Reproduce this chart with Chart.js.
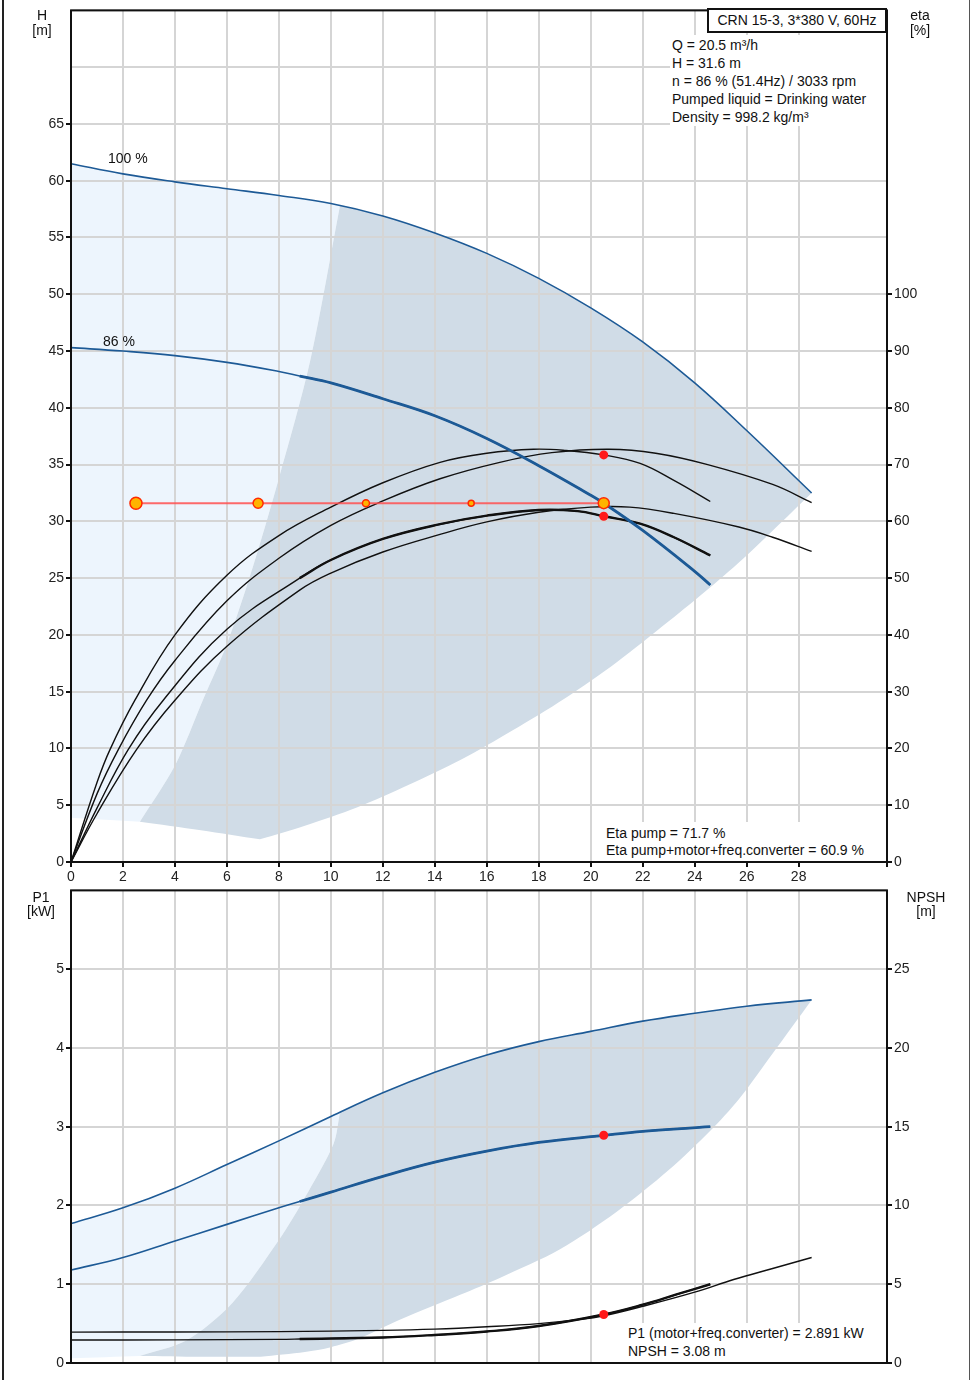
<!DOCTYPE html>
<html>
<head>
<meta charset="utf-8">
<script src="https://cdn.jsdelivr.net/npm/chart.js@4.4.1/dist/chart.umd.min.js"></script>
<style>
  html, body { margin: 0; padding: 0; background: #fff; overflow: hidden; }
  body { width: 975px; height: 1380px; position: relative; font-family: "Liberation Sans", Arial, sans-serif; color: #111; }
  .box { position: absolute; }
  .lbl { position: absolute; font-size: 14px; line-height: 16px; white-space: nowrap; }
  .c { text-align: center; }
  .bg { position: absolute; background: #fff; }
</style>
</head>
<body>
<div style="position:absolute;left:2px;top:0;width:2px;height:1380px;background:#222"></div>
<div style="position:absolute;left:969px;top:0;width:1px;height:1380px;background:#555"></div>

<div class="box" style="left:0;top:0;width:975px;height:890px"><canvas id="topChart"></canvas></div>
<div class="box" style="left:0;top:880px;width:975px;height:500px"><canvas id="bottomChart"></canvas></div>

<!-- axis units -->
<div class="lbl c" style="left:27px;top:7px;width:30px">H</div>
<div class="lbl c" style="left:27px;top:22px;width:30px">[m]</div>
<div class="lbl c" style="left:900px;top:7px;width:40px">eta</div>
<div class="lbl c" style="left:900px;top:22px;width:40px">[%]</div>
<div class="lbl c" style="left:21px;top:889px;width:40px">P1</div>
<div class="lbl c" style="left:21px;top:903px;width:40px">[kW]</div>
<div class="lbl c" style="left:901px;top:889px;width:50px">NPSH</div>
<div class="lbl c" style="left:901px;top:903px;width:50px">[m]</div>

<!-- curve labels -->
<div class="lbl" style="left:108px;top:150px">100 %</div>
<div class="lbl" style="left:103px;top:333px">86 %</div>

<!-- info box -->
<div style="position:absolute;left:707px;top:8px;width:176px;height:21px;border:2px solid #111;background:#fff;font-size:14px;line-height:21px;text-align:center;white-space:nowrap">CRN 15-3, 3*380 V, 60Hz</div>
<div class="bg" style="left:670px;top:35px;width:216px;height:91px"></div>
<div class="lbl" style="left:672px;top:37px">Q = 20.5 m³/h</div>
<div class="lbl" style="left:672px;top:55px">H = 31.6 m</div>
<div class="lbl" style="left:672px;top:73px">n = 86 % (51.4Hz) / 3033 rpm</div>
<div class="lbl" style="left:672px;top:91px">Pumped liquid = Drinking water</div>
<div class="lbl" style="left:672px;top:109px">Density = 998.2 kg/m³</div>

<div class="bg" style="left:600px;top:822px;width:286px;height:39px"></div>
<div class="lbl" style="left:606px;top:825px">Eta pump = 71.7 %</div>
<div class="lbl" style="left:606px;top:842px">Eta pump+motor+freq.converter = 60.9 %</div>

<div class="bg" style="left:624px;top:1323px;width:262px;height:39px"></div>
<div class="lbl" style="left:628px;top:1325px">P1 (motor+freq.converter) = 2.891 kW</div>
<div class="lbl" style="left:628px;top:1343px">NPSH = 3.08 m</div>

<script>
// ---- head curves (Q in m3/h, H in m)
const H100_Q = [0, 2, 4, 6, 8, 10, 12, 14, 16, 18, 20, 22, 24, 26, 28.5];
const H100   = [61.5, 60.6, 59.9, 59.3, 58.7, 58.0, 56.9, 55.4, 53.6, 51.4, 48.8, 45.8, 42.2, 38.0, 32.5];
const H86_Q  = [0, 2, 4, 6, 8, 8.8, 10, 12, 14, 16, 18, 20, 20.5, 22, 24, 24.6];
const H86    = [45.3, 45.0, 44.6, 44.0, 43.2, 42.8, 42.2, 40.8, 39.3, 37.3, 34.9, 32.3, 31.6, 29.2, 25.6, 24.4];

// ---- efficiency curves (%)
const effPump100_Q = [0, 1, 1.82, 2.91, 4, 6, 8, 10, 12, 14.2, 16.5, 18.5, 20.7, 22.5, 24.5, 27, 28.5];
const effPump100   = [0, 12, 19.8, 28.5, 35.5, 46, 53.5, 59.3, 63.6, 67.5, 70.4, 72.1, 72.7, 72.0, 70.0, 66.5, 63.3];
const effPump86_Q  = [0, 1, 1.5, 2.46, 4, 6, 8, 10, 12, 14.2, 16, 17.8, 19, 20.5, 21.9, 23.2, 24.6];
const effPump86    = [0, 14, 19.8, 28.5, 40, 50.5, 57.5, 62.5, 66.8, 70.4, 72.0, 72.7, 72.5, 71.7, 70.2, 67.2, 63.5];
const effTot100_Q  = [0, 1, 2.52, 4, 6, 8.8, 10, 12, 14.2, 16, 18, 20, 21.5, 23.2, 25.7, 27, 28.5];
const effTot100    = [0, 8.5, 19.8, 28.5, 38, 47.9, 50.9, 54.6, 57.7, 59.9, 61.6, 62.5, 62.5, 61.4, 59, 57.2, 54.7];
const effTot86_Q   = [0, 1, 2.2, 3.55, 6, 8.8, 10, 12, 14.2, 16, 18, 19.5, 20.5, 21.9, 23.2, 24.6];
const effTot86     = [0, 9.5, 19.8, 28.5, 41, 50, 53.2, 56.9, 59.5, 61.0, 62.0, 61.8, 60.9, 59.6, 57.2, 54.0];

// ---- shaded operating ranges (H chart)
const lightH_Q = [0, 2, 4, 6, 8, 10, 10.35, 10.35, 9.2, 8, 7, 6, 5.08, 4, 2.65, 2.65, 0, 0, 0];
const lightH   = [61.5, 60.6, 59.9, 59.3, 58.7, 58.0, 57.8, 57.8, 44.1, 33.8, 26, 19.2, 14.3, 8.5, 3.55, 3.55, 3.9, 3.9, 61.5];
const darkH_Q  = [10.35, 12, 14, 16, 18, 20, 22, 24, 26, 28.5, 28.5, 26, 24.6, 23, 21, 19, 17, 15, 13, 11, 9, 7.27, 7.27, 5, 2.65, 2.65, 4, 5.08, 6, 7, 8, 9.2, 10.35, 10.35];
const darkH    = [57.8, 56.9, 55.4, 53.6, 51.4, 48.8, 45.8, 42.2, 38.0, 32.5, 32.5, 27.0, 24.2, 21.2, 17.6, 14.4, 11.6, 9.0, 6.8, 4.8, 3.2, 2.0, 2.0, 2.8, 3.55, 3.55, 8.5, 14.3, 19.2, 26, 33.8, 44.1, 57.8, 57.8];

// ---- duty line and points
const dutyQ = [2.5, 7.2, 11.35, 15.4, 20.5];
const dutyH = [31.6, 31.6, 31.6, 31.6, 31.6];
const dutyR = [6, 5, 3.5, 3, 5.5];
const dutyEtaQ = [20.5, 20.5];
const dutyEta  = [71.7, 60.9];

// ---- power (kW) and NPSH (m)
const P100_Q = [0, 2, 4, 6, 8, 10, 12, 14, 16, 18, 20, 22, 24, 26, 28.5];
const P100   = [1.77, 1.97, 2.22, 2.52, 2.82, 3.13, 3.43, 3.69, 3.91, 4.08, 4.21, 4.34, 4.44, 4.53, 4.61];
const P86_Q  = [0, 2, 4, 6, 8, 8.8, 10, 12, 14, 16, 18, 20.5, 22, 24.6];
const P86    = [1.18, 1.34, 1.55, 1.76, 1.97, 2.05, 2.17, 2.37, 2.55, 2.69, 2.80, 2.89, 2.94, 3.00];
const NPSH100_Q = [0, 4, 8, 12, 14, 16, 18, 19.5, 20.5, 22, 24, 25.5, 27, 28.5];
const NPSH100   = [1.96, 1.97, 1.99, 2.07, 2.15, 2.3, 2.5, 2.75, 3.0, 3.6, 4.5, 5.3, 6.0, 6.7];
const NPSH86_Q  = [0, 4, 8, 8.8, 12, 14, 16, 18, 20.5, 22, 23.3, 24.6];
const NPSH86    = [1.46, 1.47, 1.5, 1.52, 1.62, 1.78, 2.0, 2.35, 3.08, 3.7, 4.35, 5.0];

const lightP_Q = [0, 2, 4, 6, 8, 10, 10.35, 10.35, 10.1, 9, 8, 6.2, 4.45, 2.65, 2.65, 0, 0, 0];
const lightP   = [1.77, 1.97, 2.22, 2.52, 2.82, 3.13, 3.18, 3.18, 2.78, 2.1, 1.56, 0.76, 0.29, 0.09, 0.09, 0.06, 0.06, 1.77];
const darkP_Q  = [10.35, 12, 14, 16, 18, 20, 22, 24, 26, 28.5, 28.5, 27, 25.7, 24.6, 23, 21, 18.8, 16.5, 15, 12.65, 11, 10, 9, 7.3, 7.3, 5, 2.65, 2.65, 4.45, 6.2, 8, 9, 10.1, 10.35, 10.35];
const darkP    = [3.18, 3.43, 3.69, 3.91, 4.08, 4.21, 4.34, 4.44, 4.53, 4.61, 4.61, 3.93, 3.35, 2.95, 2.45, 1.92, 1.44, 1.08, 0.87, 0.55, 0.3, 0.2, 0.14, 0.08, 0.08, 0.08, 0.09, 0.09, 0.29, 0.76, 1.56, 2.1, 2.78, 3.18, 3.18];
const dutyP_Q = [20.5];
const dutyP   = [2.891];
const dutyNPSH = [3.08];

// ---- look
const BLUE = '#1d5a96';
const LIGHT = '#edf5fd';
const DARK = '#d0dce7';
const GRID = '#d5d5d5';
const FONT = { family: '"Liberation Sans", Arial, sans-serif', size: 14 };

Chart.defaults.font.family = FONT.family;
Chart.defaults.font.size = 14;

const pts = (xs, ys) => xs.map((x, i) => ({ x: x, y: ys[i] }));
const from = (arr, q) => arr.filter(p => p.x >= q);

function area(data, color, order, yAxisID) {
    return { data: data, yAxisID: yAxisID, order: order, showLine: true, fill: 'shape',
             backgroundColor: color, borderColor: 'rgba(0,0,0,0)', borderWidth: 0,
             pointRadius: 0, tension: 0.3 };
}

function curve(data, color, width, yAxisID, order) {
    return { data: data, yAxisID: yAxisID, order: order || 5, showLine: true, fill: false,
             borderColor: color, borderWidth: width, pointRadius: 0, tension: 0.4 };
}

function dots(data, yAxisID) {
    return { data: data, yAxisID: yAxisID, order: 0, showLine: false,
             pointRadius: 4.5, pointBackgroundColor: '#ff1a1a', pointBorderWidth: 0 };
}

// black frame round the plot area
const framePlugin = {
    id: 'frame',
    afterDraw(chart) {
        const { ctx, chartArea: a } = chart;
        ctx.save();
        ctx.strokeStyle = '#111';
        ctx.lineWidth = 2;
        ctx.strokeRect(a.left, a.top, a.right - a.left, a.bottom - a.top);
        ctx.restore();
    }
};

function yScale(pos, max, step, lastLabel, width) {
    return {
        type: 'linear', position: pos, min: 0, max: max,
        border: { display: false },
        grid: {
            display: true, drawOnChartArea: pos === 'left', color: GRID, lineWidth: 2,
            tickLength: 5,
            tickColor: c => (c.tick && c.tick.value > lastLabel) ? 'rgba(0,0,0,0)' : '#111'
        },
        ticks: { stepSize: step, padding: 2, color: '#222', font: FONT,
                 callback: v => v <= lastLabel ? v : '' },
        afterFit: s => { s.width = width; }
    };
}

function xScale(showLabels, height) {
    return {
        type: 'linear', position: 'bottom', min: 0, max: 31.4,
        border: { display: false },
        grid: { color: GRID, lineWidth: 2, drawTicks: showLabels, tickLength: 5, tickColor: '#111' },
        ticks: { display: showLabels, stepSize: 2, autoSkip: false, maxRotation: 0, padding: 2,
                 color: '#222', font: FONT,
                 callback: v => v === 30 ? 'Q [m³/h]' : (v % 2 === 0 ? String(v) : '') },
        afterFit: s => { s.height = height; }
    };
}

function makeChart(canvasId, datasets, scales, padTop) {
    const ctx = document.getElementById(canvasId).getContext('2d');
    return new Chart(ctx, {
        type: 'scatter',
        data: { datasets: datasets },
        options: {
            responsive: true,
            maintainAspectRatio: false,
            animation: false,
            events: [],
            layout: { padding: { top: padTop, left: 0, right: 0, bottom: 0 } },
            plugins: { legend: { display: false }, tooltip: { enabled: false },
                       filler: { drawTime: 'beforeDraw' } },
            scales: scales
        },
        plugins: [framePlugin]
    });
}

// top chart: H and eta
const h86 = pts(H86_Q, H86);
const eTot86 = pts(effTot86_Q, effTot86);
makeChart('topChart', [
    area(pts(lightH_Q, lightH), LIGHT, 20, 'y'),
    area(pts(darkH_Q, darkH), DARK, 19, 'y'),
    curve(pts(H100_Q, H100), BLUE, 1.6, 'y'),
    curve(h86, BLUE, 1.6, 'y'),
    curve(from(h86, 8.8), BLUE, 2.8, 'y'),
    curve(pts(effPump100_Q, effPump100), '#111', 1.4, 'y2'),
    curve(pts(effPump86_Q, effPump86), '#111', 1.4, 'y2'),
    curve(pts(effTot100_Q, effTot100), '#111', 1.4, 'y2'),
    curve(eTot86, '#111', 1.4, 'y2'),
    curve(from(eTot86, 8.8), '#111', 2.4, 'y2'),
    { data: pts(dutyQ, dutyH), yAxisID: 'y', order: 1, showLine: true, fill: false,
      borderColor: 'rgba(255,80,80,0.85)', borderWidth: 2,
      pointRadius: dutyR, pointBackgroundColor: '#ffb400', pointBorderColor: '#ff2a00', pointBorderWidth: 1.5 },
    dots(pts(dutyEtaQ, dutyEta), 'y2')
], {
    x: xScale(true, 28),
    y: yScale('left', 75, 5, 65, 71),
    y2: yScale('right', 150, 10, 100, 88)
}, 9);

// bottom chart: P1 and NPSH
const p86 = pts(P86_Q, P86);
const n86 = pts(NPSH86_Q, NPSH86);
makeChart('bottomChart', [
    area(pts(lightP_Q, lightP), LIGHT, 20, 'y'),
    area(pts(darkP_Q, darkP), DARK, 19, 'y'),
    curve(pts(P100_Q, P100), BLUE, 1.6, 'y'),
    curve(p86, BLUE, 1.6, 'y'),
    curve(from(p86, 8.8), BLUE, 2.8, 'y'),
    curve(pts(NPSH100_Q, NPSH100), '#111', 1.4, 'y2'),
    curve(n86, '#111', 1.4, 'y2'),
    curve(from(n86, 8.8), '#111', 2.4, 'y2'),
    dots(pts(dutyP_Q, dutyP), 'y'),
    dots(pts(dutyP_Q, dutyNPSH), 'y2')
], {
    x: xScale(false, 17),
    y: yScale('left', 6, 1, 5, 71),
    y2: yScale('right', 30, 5, 25, 88)
}, 9);
</script>
</body>
</html>
